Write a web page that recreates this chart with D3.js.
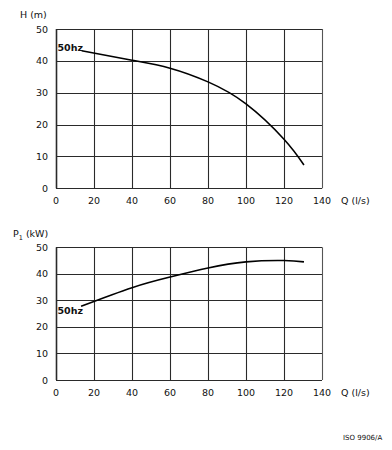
<!DOCTYPE html>
<html><head><meta charset="utf-8">
<script src="https://cdn.jsdelivr.net/npm/d3@7"></script>
<style>
body{margin:0;background:#fff;}
svg{display:block;}
text{font-family:"DejaVu Sans",Verdana,sans-serif;fill:#111;}
</style></head>
<body>
<svg id="c" width="392" height="450"></svg>
<script>
const xTicks = [0,20,40,60,80,100,120,140];
const yTicks = [0,10,20,30,40,50];
const headQ = [13.5,40,60,80,100,120,130.5];
const headH = [43.2,40.2,37.7,33.4,26.5,15.4,7.3];
const powerQ = [13.2,40,60,80,100,120,130.5];
const powerP = [27.8,34.8,38.8,42.2,44.5,45,44.5];
const seriesLabel = "50hz";
const xTitle = "Q (l/s)";
const code = "ISO 9906/A";

const svg = d3.select("#c");
const x = d3.scaleLinear().domain([0,140]).range([56,322]);

function panel(yTop, yBottom, qs, vs, labelY, yTitleFn){
  const y = d3.scaleLinear().domain([0,50]).range([yBottom,yTop]);
  const g = svg.append("g");
  g.selectAll(".hg").data(yTicks).join("line")
    .attr("x1",x(0)).attr("x2",x(140))
    .attr("y1",d=>Math.round(y(d))+0.5).attr("y2",d=>Math.round(y(d))+0.5)
    .attr("stroke","#2a2a2a").attr("stroke-width",1.1);
  g.selectAll(".vg").data(xTicks).join("line")
    .attr("y1",y(0)).attr("y2",y(50))
    .attr("x1",d=>Math.round(x(d))+0.5).attr("x2",d=>Math.round(x(d))+0.5)
    .attr("stroke",d=>d===140?"#555":"#2a2a2a").attr("stroke-width",d=>d===0?1.6:1.1);
  g.selectAll(".yl").data(yTicks).join("text")
    .attr("x",48).attr("y",d=>y(d)+3.5).attr("text-anchor","end")
    .attr("font-size",9.5).text(d=>d);
  g.selectAll(".xl").data(xTicks).join("text")
    .attr("x",d=>x(d)).attr("y",y(0)+16).attr("text-anchor","middle")
    .attr("font-size",9.5).text(d=>d);
  g.append("text").attr("x",341).attr("y",y(0)+16).attr("font-size",9.5).text(xTitle);
  const pts = qs.map((q,i)=>[q,vs[i]]);
  g.append("path").datum(pts)
    .attr("d",d3.line().x(d=>x(d[0])).y(d=>y(d[1])).curve(d3.curveNatural))
    .attr("fill","none").attr("stroke","#000").attr("stroke-width",1.6);
  g.append("text").attr("x",57.5).attr("y",labelY).attr("font-size",9.5)
    .attr("font-weight","bold").text(seriesLabel);
  yTitleFn(g);
  return y;
}

panel(29,188.3,headQ,headH,50.5,g=>{
  g.append("text").attr("x",20).attr("y",18).attr("font-size",9.5).text("H  (m)");
});
panel(247.3,380,powerQ,powerP,314,g=>{
  const t = g.append("text").attr("x",13).attr("y",237).attr("font-size",9.5);
  t.append("tspan").text("P");
  t.append("tspan").attr("font-size",6.5).attr("dy",3).text("1");
  t.append("tspan").attr("dy",-3).text(" (kW)");
});
svg.append("text").attr("x",343).attr("y",440).attr("font-size",7).text(code);
</script>
</body></html>
